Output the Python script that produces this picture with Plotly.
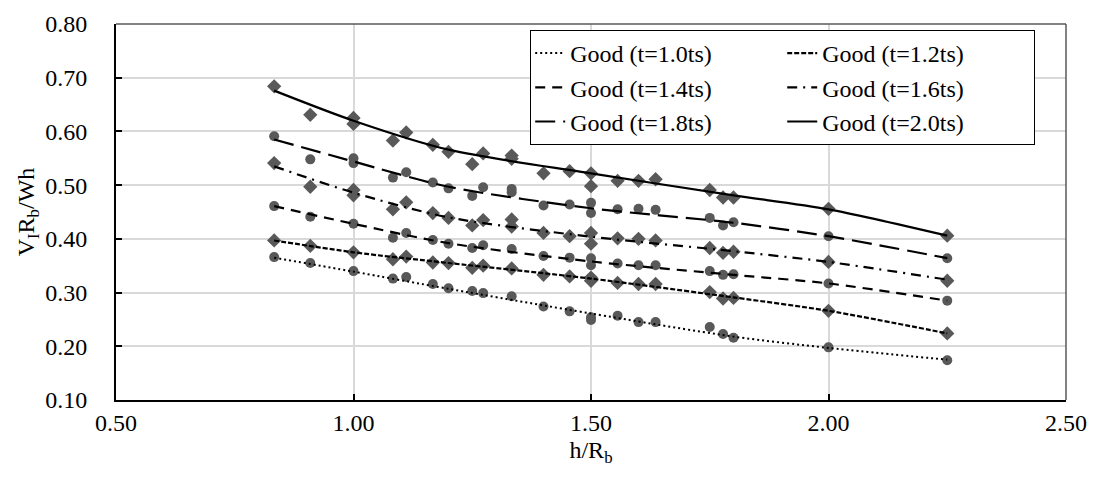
import plotly.graph_objects as go

# ---------------- data ----------------
h_base = [0.833, 0.909, 1.0, 1.083, 1.111, 1.167, 1.2, 1.25, 1.273, 1.333, 1.4,
          1.455, 1.5, 1.556, 1.6, 1.636, 1.75, 1.778, 1.8, 2.0, 2.25]

# measured points (base x positions) + extra repeated points
t10_y = [0.366, 0.355, 0.340, 0.326, 0.329, 0.316, 0.308, 0.303, 0.299, 0.293, 0.274,
         0.265, 0.254, 0.257, 0.245, 0.245, 0.236, 0.223, 0.216, 0.198, 0.174]
t10_xe, t10_ye = [1.5], [0.249]

t12_y = [0.397, 0.387, 0.375, 0.362, 0.367, 0.356, 0.355, 0.346, 0.350, 0.345, 0.333,
         0.330, 0.328, 0.318, 0.316, 0.316, 0.301, 0.289, 0.290, 0.266, 0.224]
t12_xe, t12_ye = [1.5], [0.322]

t14_y = [0.461, 0.441, 0.428, 0.402, 0.411, 0.398, 0.391, 0.383, 0.388, 0.381, 0.368,
         0.365, 0.364, 0.354, 0.351, 0.351, 0.340, 0.333, 0.334, 0.317, 0.285]
t14_xe, t14_ye = [1.5], [0.351]

t16_y = [0.541, 0.497, 0.491, 0.455, 0.468, 0.448, 0.439, 0.425, 0.435, 0.436, 0.411,
         0.405, 0.411, 0.401, 0.400, 0.397, 0.383, 0.374, 0.376, 0.357, 0.322]
t16_xe, t16_ye = [1.0, 1.333, 1.5], [0.481, 0.423, 0.391]

t18_y = [0.591, 0.548, 0.550, 0.514, 0.524, 0.505, 0.494, 0.480, 0.496, 0.493, 0.462,
         0.464, 0.467, 0.455, 0.456, 0.454, 0.439, 0.425, 0.431, 0.405, 0.364]
t18_xe, t18_ye = [1.0, 1.333, 1.5], [0.541, 0.487, 0.448]

t20_y = [0.684, 0.631, 0.625, 0.583, 0.598, 0.575, 0.562, 0.539, 0.559, 0.555, 0.522,
         0.526, 0.522, 0.508, 0.508, 0.511, 0.491, 0.477, 0.477, 0.456, 0.406]
t20_xe, t20_ye = [1.0, 1.333, 1.5], [0.614, 0.549, 0.498]

# trend ("Good") curves
h_fit = [0.833, 1.0, 1.2, 1.5, 1.8, 2.0, 2.25]
fit10 = [0.365, 0.339, 0.307, 0.261, 0.218, 0.197, 0.175]
fit12 = [0.397, 0.375, 0.355, 0.326, 0.291, 0.266, 0.224]
fit14 = [0.461, 0.428, 0.392, 0.358, 0.333, 0.317, 0.285]
fit16 = [0.535, 0.486, 0.440, 0.404, 0.377, 0.357, 0.324]
fit18 = [0.585, 0.544, 0.497, 0.457, 0.430, 0.405, 0.364]
fit20 = [0.676, 0.620, 0.566, 0.522, 0.481, 0.455, 0.406]

labels = ["Good (t=1.0ts)", "Good (t=1.2ts)", "Good (t=1.4ts)",
          "Good (t=1.6ts)", "Good (t=1.8ts)", "Good (t=2.0ts)"]

# ---------------- styles ----------------
MARK = "#595959"
FONT = "Liberation Serif"
series = [
    (t10_y, t10_xe, t10_ye, fit10, "circle", "2px,3px", 2.0, "a"),
    (t12_y, t12_xe, t12_ye, fit12, "diamond", "5px,2px", 2.2, "b"),
    (t14_y, t14_xe, t14_ye, fit14, "circle", "10px,7px", 2.2, "a"),
    (t16_y, t16_xe, t16_ye, fit16, "diamond", "10px,6px,2px,6px", 2.2, "b"),
    (t18_y, t18_xe, t18_ye, fit18, "circle", "20px,8px", 2.2, "a"),
    (t20_y, t20_xe, t20_ye, fit20, "diamond", "solid", 2.2, "b"),
]

fig = go.Figure()

# markers first
for ys, xe, ye, fit, sym, dash, lw, grp in series:
    fig.add_trace(go.Scatter(
        x=h_base + xe, y=ys + ye, mode="markers", showlegend=False,
        marker=dict(symbol=sym, size=10 if sym == "circle" else 11, color=MARK),
        hoverinfo="x+y"))

# trend lines on top
for (ys, xe, ye, fit, sym, dash, lw, grp), name in zip(series, labels):
    fig.add_trace(go.Scatter(
        x=h_fit, y=fit, mode="lines", name=name, legendgroup=grp,
        line=dict(color="black", width=lw, dash=dash, shape="spline", smoothing=0.8)))

axis_common = dict(
    showline=True, linecolor="black", linewidth=2,
    ticks="inside", ticklen=6, tickcolor="black", tickwidth=1.5,
    showgrid=True, gridcolor="#d9d9d9", gridwidth=1.5, zeroline=False,
    tickformat=".2f", tickfont=dict(family=FONT, size=24, color="black"),
)

fig.update_xaxes(range=[0.5, 2.5], dtick=0.5, tick0=0.5,
                 title=dict(text="h/R<sub>b</sub>", font=dict(family=FONT, size=24, color="black"),
                            standoff=6),
                 **axis_common)
fig.update_yaxes(range=[0.1, 0.8], dtick=0.1, tick0=0.1,
                 ticklabelstandoff=22,
                 title=dict(text="V<sub>I</sub>R<sub>b</sub>/Wh",
                            font=dict(family=FONT, size=24, color="black"), standoff=4),
                 **axis_common)

fig.update_layout(
    width=1094, height=487,
    margin=dict(l=116, r=28, t=24, b=87, autoexpand=False),
    paper_bgcolor="white", plot_bgcolor="white",
    font=dict(family=FONT, size=24, color="black"),
    legend=dict(
        orientation="h", traceorder="grouped", tracegroupgap=0,
        x=0.436, y=0.984, xanchor="left", yanchor="top",
        bgcolor="white", bordercolor="black", borderwidth=1,
        entrywidth=207, font=dict(family=FONT, size=24, color="black"),
    ),
    shapes=[
        dict(type="line", xref="paper", yref="paper", x0=0, x1=1, y0=1, y1=1,
             line=dict(color="#595959", width=1.5)),
        dict(type="line", xref="paper", yref="paper", x0=1, x1=1, y0=0, y1=1,
             line=dict(color="#595959", width=1.5)),
    ],
)

fig.write_html("out.html")
